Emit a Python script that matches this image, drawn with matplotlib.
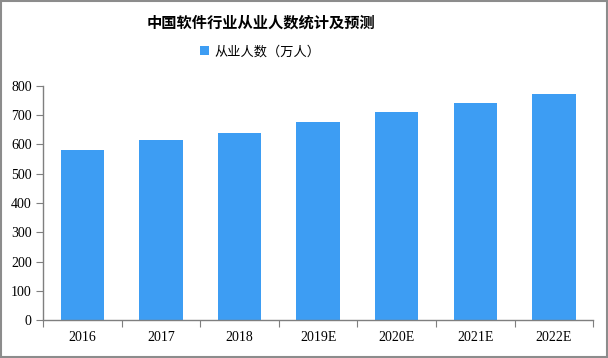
import matplotlib.pyplot as plt
import numpy as np

plt.rcParams['font.family'] = ['Noto Sans CJK SC', 'DejaVu Sans']

years = ['2016', '2017', '2018', '2019E', '2020E', '2021E', '2022E']
workers = [581, 615, 639, 677, 711, 742, 773]
yticks = [0, 100, 200, 300, 400, 500, 600, 700, 800]

bar_color = '#3D9DF3'
axis_color = '#7F7F7F'

fig = plt.figure(figsize=(6.08, 3.58), dpi=100)
ax = fig.add_axes([0.0707, 0.106, 0.905, 0.654])

x = np.arange(len(years))
ax.bar(x, workers, width=0.55, color=bar_color, label='从业人数（万人）', zorder=2)

ax.set_xlim(-0.5, len(years) - 0.5)
ax.set_ylim(0, 800)
ax.set_yticks(yticks)
ax.set_yticklabels([str(v) for v in yticks], family='Liberation Serif', fontsize=10)

# ticks between categories, labels centred
ax.set_xticks(np.arange(-0.5, len(years)), minor=False)
ax.set_xticklabels([''] * (len(years) + 1))
ax.set_xticks(x, minor=True)
ax.set_xticklabels(years, minor=True, family='Liberation Serif', fontsize=10)
ax.tick_params(axis='x', which='minor', length=0, pad=8)
ax.tick_params(axis='x', which='major', length=5, color=axis_color, direction='out')
ax.tick_params(axis='y', length=5, color=axis_color, direction='out', pad=3)

for side in ['top', 'right']:
    ax.spines[side].set_visible(False)
for side in ['left', 'bottom']:
    ax.spines[side].set_color(axis_color)
    ax.spines[side].set_linewidth(1)

fig.text(0.43, 0.938, '中国软件行业从业人数统计及预测', ha='center', va='center',
         fontsize=11, fontweight='bold')
fig.legend(loc='center', bbox_to_anchor=(0.428, 0.855), frameon=False, fontsize=9.5,
           handlelength=0.7, handleheight=0.7, handletextpad=0.4)

# outer border
fig.patches.append(plt.Rectangle((0.001, 0.002), 0.997, 0.995, transform=fig.transFigure,
                                 fill=False, edgecolor='#8C8C8C', linewidth=1.5))

fig.savefig('out.png', dpi=100)
